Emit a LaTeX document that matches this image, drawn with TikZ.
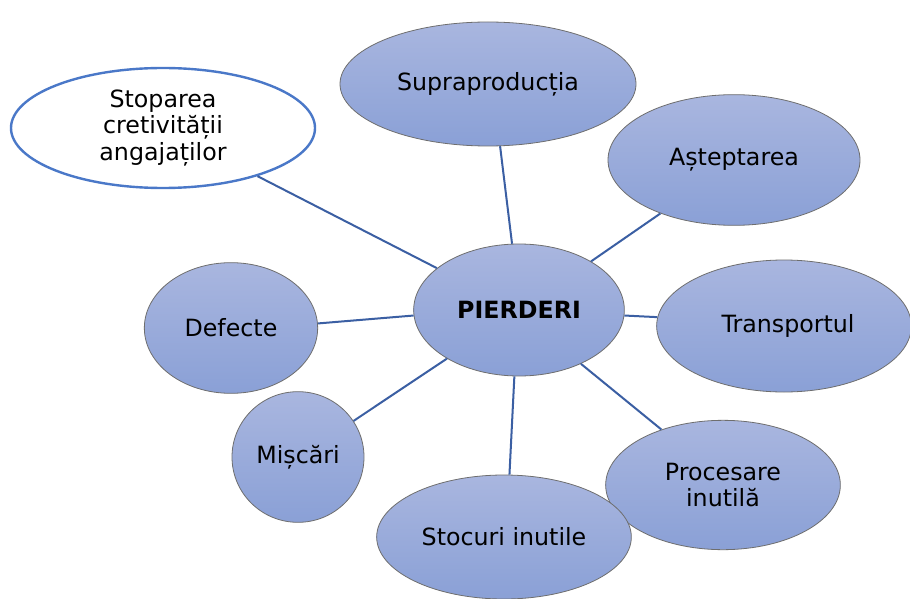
\documentclass[tikz,border=0pt]{standalone}
\usepackage{fontspec}
\setmainfont{DejaVu Sans}
\usetikzlibrary{shapes.geometric}
\definecolor{bubtop}{HTML}{A9B6DF}
\definecolor{bubbot}{HTML}{8AA0D6}
\definecolor{bubedge}{HTML}{6E6E6E}
\definecolor{linkblue}{HTML}{3B5FA3}
\definecolor{ringblue}{HTML}{4A78C8}
\begin{document}
\begin{tikzpicture}[x=0.75pt,y=-0.75pt,
  bubble/.style={ellipse, draw=bubedge, line width=0.6pt, top color=bubtop, bottom color=bubbot,
    inner sep=0pt, align=center, font=\fontsize{17.8}{20}\selectfont},
  openbubble/.style={ellipse, draw=ringblue, line width=1.8pt, fill=white,
    inner sep=0pt, align=center, font=\fontsize{17.8}{20}\selectfont},
  link/.style={draw=linkblue, line width=1.5pt}]
\useasboundingbox (0,0) rectangle (910,599);
\fill[white] (0,0) rectangle (910,599);

% outer bubbles
\node[openbubble, minimum width=228pt, minimum height=90pt] (stop) at (163,128) {Stoparea\\cretivității\\angajaților};
\node[bubble, minimum width=222pt, minimum height=93pt] (supra) at (488,84) {Supraproducția};
\node[bubble, minimum width=189pt, minimum height=98pt] (astept) at (734,160) {Așteptarea};
\node[bubble, minimum width=191pt, minimum height=99pt] (transp) at (784,326) {\hspace*{6pt}Transportul};
\node[bubble, minimum width=176pt, minimum height=97pt] (proc) at (723,485) {Procesare\\inutilă};
\node[bubble, minimum width=191pt, minimum height=93pt] (stoc) at (504,537) {Stocuri inutile};
\node[bubble, minimum width=99pt, minimum height=98pt] (misc) at (298,457) {Mișcări};
\node[bubble, minimum width=130pt, minimum height=98pt] (def) at (231,328) {Defecte};

% centre bubble
\node[bubble, minimum width=158pt, minimum height=99pt, font=\fontsize{17.8}{20}\selectfont\bfseries] (pier) at (519,310) {PIERDERI};

% spokes
\draw[link] (pier.153.2) -- (stop.-27.9);
\draw[link] (pier.96.9) -- (supra.-79.9);
\draw[link] (pier.34.1) -- (astept.-144.4);
\draw[link] (pier.-3.8) -- (transp.176.8);
\draw[link] (pier.-41) -- (proc.138.9);
\draw[link] (pier.-94.3) -- (stoc.85.5);
\draw[link] (pier.-146.3) -- (misc.33.5);
\draw[link] (pier.183.3) -- (def.3.3);
\end{tikzpicture}
\end{document}
